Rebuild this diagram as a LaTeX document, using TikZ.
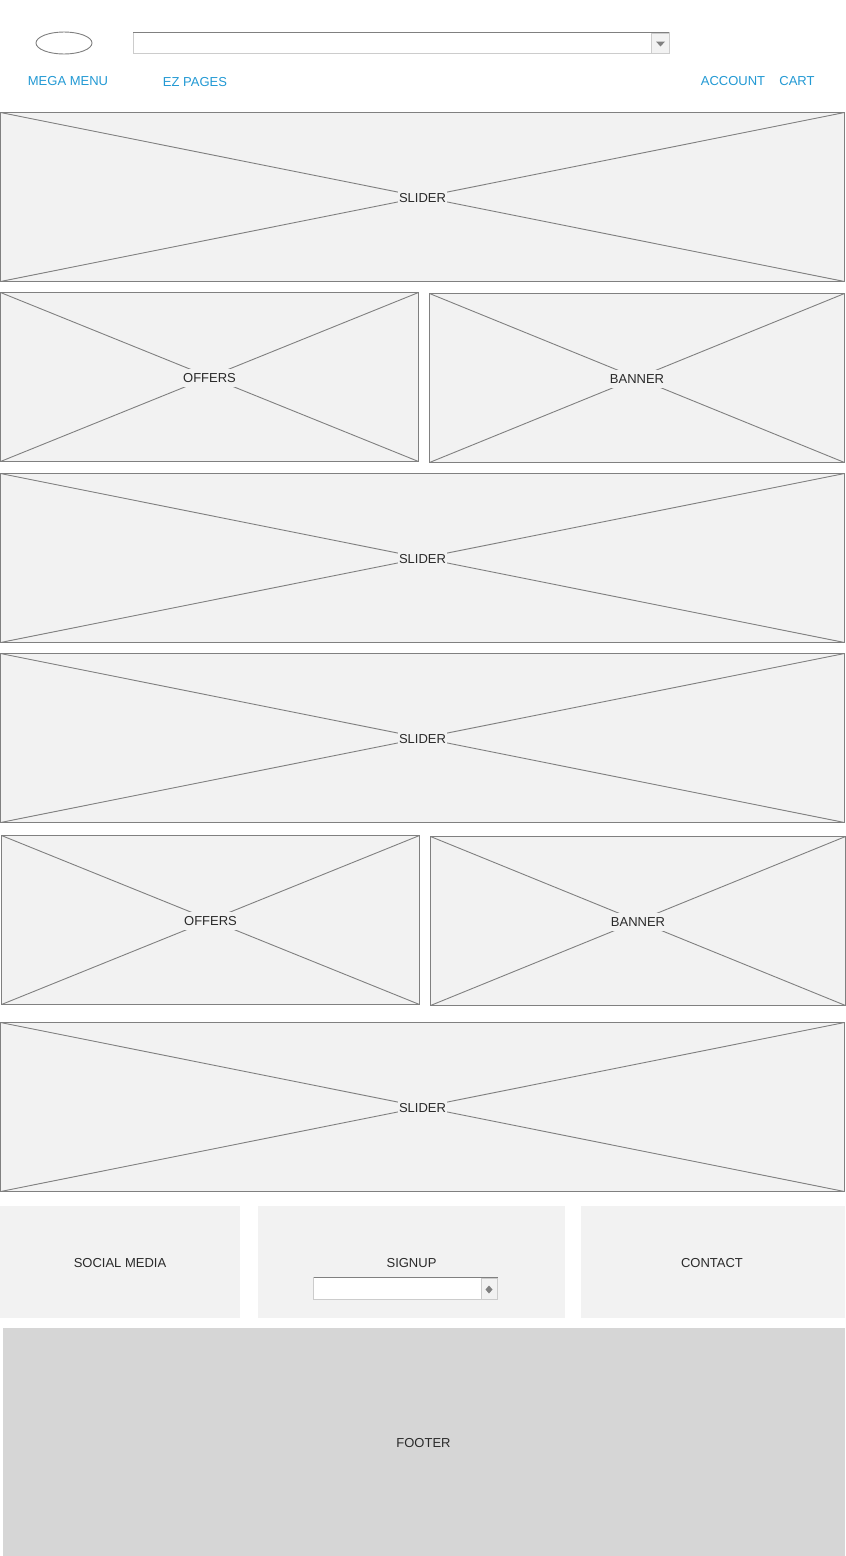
\documentclass[tikz,border=0pt]{standalone}
\usetikzlibrary{shapes.geometric}
\usepackage{fontspec}
\setmainfont{Liberation Sans}
\definecolor{boxfill}{HTML}{F2F2F2}
\definecolor{boxline}{HTML}{808080}
\definecolor{linkblue}{HTML}{2299D4}
\definecolor{txt}{HTML}{2A2A2A}
\definecolor{footfill}{HTML}{D6D6D6}
\definecolor{fieldline}{HTML}{CCCCCC}
\begin{document}
\begin{tikzpicture}[x=1pt,y=-1pt,
  ph/.style={draw=boxline,fill=boxfill,line width=1pt},
  diag/.style={draw=boxline,line width=0.9pt},
  phlabel/.style={fill=boxfill,text=txt,font=\fontsize{13}{15}\selectfont,inner xsep=1pt,inner ysep=4.5pt},
  panel/.style={fill=boxfill},
  plabel/.style={text=txt,font=\fontsize{13}{15}\selectfont,inner sep=0pt},
  link/.style={text=linkblue,font=\fontsize{13}{15}\selectfont,inner sep=0pt},
  field/.style={draw=fieldline,fill=white,line width=0.8pt},
  fieldtop/.style={draw=boxline,line width=1.4pt},
  btn/.style={draw=fieldline,fill=boxfill,line width=0.8pt}
]
\useasboundingbox (0,0) rectangle (846,1556);
\fill[white] (0,0) rectangle (846,1556);

% header
\node[draw=boxline,line width=0.9pt,ellipse,minimum width=56pt,minimum height=22pt,inner sep=0pt] (logo) at (64,43) {};
\path[field] (133,32.5) rectangle (669,53.5);
\coordinate (cbl) at (133,32.5);
\coordinate (cbr) at (669,32.5);
\path[btn] (651,33) rectangle (669,53.5);
\fill[boxline] (656,41.5) -- (665,41.5) -- (660.5,46.5) -- cycle;
\draw[fieldtop] (cbl) -- (cbr);

\node[link] (mega) at (68,81) {MEGA MENU};
\node[link] (ez) at (195,82) {EZ PAGES};
\node[link] (acct) at (733,81) {ACCOUNT};
\node[link] (cart) at (797,81) {CART};

% placeholder boxes
\foreach \nm/\xa/\ya/\xb/\yb/\lab in {
  s1/0.5/112.5/844.5/281.5/SLIDER,
  o1/0.5/292.5/418.5/461.5/OFFERS,
  b1/429.5/293.5/844.5/462.5/BANNER,
  s2/0.5/473.5/844.5/642.5/SLIDER,
  s3/0.5/653.5/844.5/822.5/SLIDER,
  o2/1.5/835.5/419.5/1004.5/OFFERS,
  b2/430.5/836.5/845.5/1005.5/BANNER,
  s4/0.5/1022.5/844.5/1191.5/SLIDER}{
  \node[ph,minimum width={\xb-\xa},minimum height={\yb-\ya},inner sep=0pt,outer sep=0pt,anchor=north west] (\nm) at (\xa,\ya) {};
  \draw[diag] (\nm.north west) -- (\nm.south east);
  \draw[diag] (\nm.south west) -- (\nm.north east);
  \node[phlabel] (\nm-l) at ([yshift=-1pt]\nm.center) {\lab};
}

% bottom panels
\node[panel,minimum width=240pt,minimum height=112pt,inner sep=0pt,anchor=north west] (social) at (0,1206) {};
\node[plabel] at (120,1263) {SOCIAL MEDIA};
\node[panel,minimum width=307pt,minimum height=112pt,inner sep=0pt,anchor=north west] (signup) at (258,1206) {};
\node[plabel] at (411.5,1263) {SIGNUP};
\node[panel,minimum width=264pt,minimum height=112pt,inner sep=0pt,anchor=north west] (contact) at (581,1206) {};
\node[plabel] at (712,1263) {CONTACT};

\path[field] (313.5,1277.5) rectangle (497.5,1299.5);
\path[btn] (481,1278) rectangle (497.5,1299.5);
\coordinate (sfl) at (313.5,1277.5);
\coordinate (sfr) at (497.5,1277.5);
\draw[fieldtop] (sfl) -- (sfr);
\fill[boxline] (489,1285.5) -- (492.5,1289.5) -- (489,1293.5) -- (485.5,1289.5) -- cycle;

% footer
\node[fill=footfill,minimum width=842pt,minimum height=228pt,inner sep=0pt,anchor=north west] (footer) at (3,1328) {};
\node[plabel] at (423.5,1443) {FOOTER};
\end{tikzpicture}
\end{document}
